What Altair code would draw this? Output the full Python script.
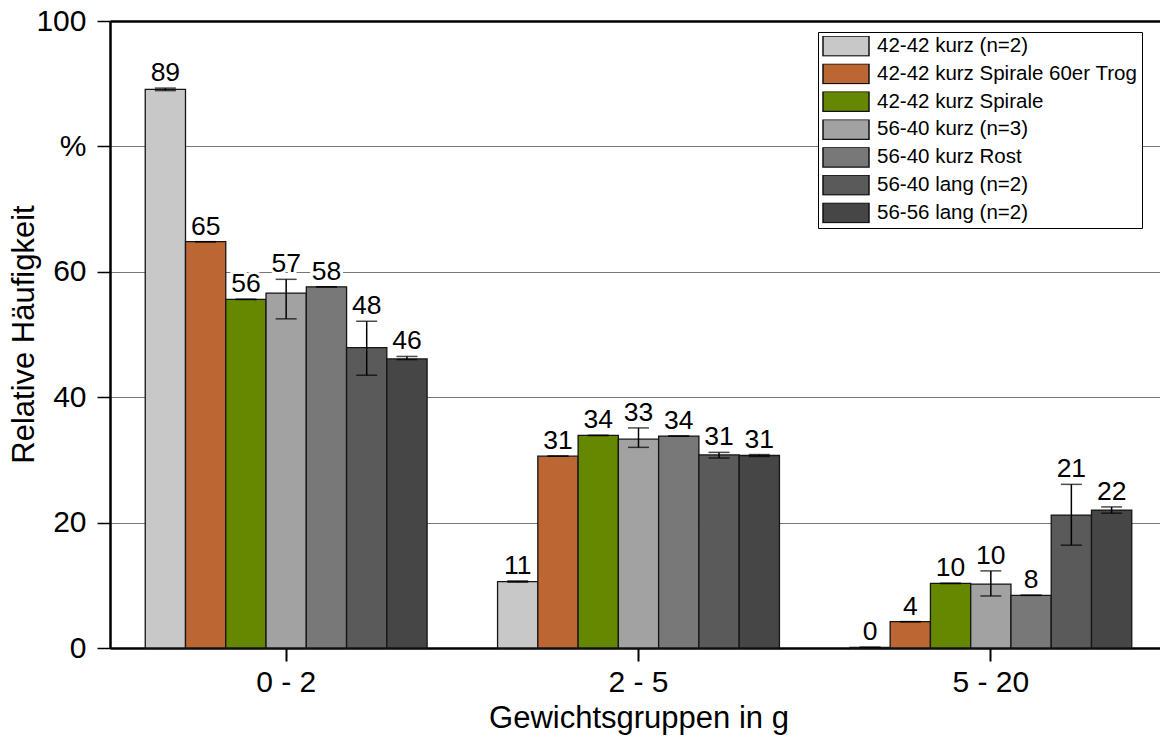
import altair as alt
import pandas as pd

categories = ["0 - 2", "2 - 5", "5 - 20"]
series = [
    "42-42 kurz (n=2)",
    "42-42 kurz Spirale 60er Trog",
    "42-42 kurz Spirale",
    "56-40 kurz (n=3)",
    "56-40 kurz Rost",
    "56-40 lang (n=2)",
    "56-56 lang (n=2)",
]
colors = ["#C8C8C8", "#BB6633", "#668800", "#A2A2A2", "#787878", "#5A5A5A", "#464646"]

# mean values per series (order of categories)
values = [
    [89.1, 10.6, 0.1],
    [64.8, 30.6, 4.2],
    [55.6, 33.9, 10.3],
    [56.6, 33.3, 10.2],
    [57.6, 33.8, 8.4],
    [47.9, 30.8, 21.2],
    [46.1, 30.7, 22.0],
]
# error bar lower / upper bounds
err_low = [
    [88.9, 10.5, 0.1],
    [64.8, 30.6, 4.2],
    [55.6, 33.9, 10.3],
    [52.5, 32.0, 8.3],
    [57.6, 33.8, 8.4],
    [43.5, 30.3, 16.4],
    [46.0, 30.55, 21.5],
]
err_high = [
    [89.3, 10.7, 0.1],
    [64.8, 30.6, 4.2],
    [55.6, 33.9, 10.3],
    [58.8, 35.1, 12.3],
    [57.6, 33.8, 8.4],
    [52.1, 31.2, 26.1],
    [46.5, 30.85, 22.5],
]

rows = []
for si, s in enumerate(series):
    for ci, c in enumerate(categories):
        v = values[si][ci]
        lo = err_low[si][ci]
        hi = err_high[si][ci]
        rows.append(dict(cat=c, series=s, value=v, lo=lo, hi=hi,
                         top=max(v, hi), label=f"{v:.0f}"))
df = pd.DataFrame(rows)

FONT = "Liberation Sans"

y_axis = alt.Axis(
    values=[0, 20, 40, 60, 80, 100],
    labelExpr="datum.value == 80 ? '%' : datum.label",
    labelFontSize=30, labelColor="black", labelPadding=11,
    title="Relative Häufigkeit", titleFontSize=31, titleFontWeight="normal",
    titleColor="black", titleX=-86, titleY=313, titleBaseline="middle",
    titleAlign="center",
    grid=True,
    gridColor={"condition": {"test": "datum.value >= 100", "value": "black"}, "value": "#777777"},
    gridWidth={"condition": {"test": "datum.value >= 100", "value": 2.5}, "value": 1.2},
    tickSize=13, tickColor="black", tickWidth=1.5,
    domainColor="black", domainWidth=2.5,
)
x_axis = alt.Axis(
    labelAngle=0, labelFontSize=30, labelColor="black", labelPadding=6,
    title="Gewichtsgruppen in g", titleFontSize=31, titleFontWeight="normal",
    titleColor="black", titlePadding=6,
    grid=False, tickSize=13, tickColor="black", tickWidth=2,
    domainColor="black", domainWidth=2.5,
)

x_enc = alt.X("cat:N", sort=categories,
              scale=alt.Scale(paddingInner=0.2, paddingOuter=0.1, range=[0, 1057]),
              axis=x_axis)
xo_enc = alt.XOffset("series:N", sort=series,
                     scale=alt.Scale(paddingInner=0, paddingOuter=0))
y_scale = alt.Scale(domain=[0, 100], nice=False)

legend = alt.Legend(
    orient="none", legendX=708, legendY=11, title=None,
    labelFontSize=20.5, labelFont=FONT, labelColor="black", labelLimit=400,
    labelOffset=7,
    symbolType="M-1,-0.435H1V0.435H-1Z", symbolSize=2116,
    symbolStrokeColor="#111111", symbolStrokeWidth=1.5, symbolOpacity=1,
    clipHeight=20, rowPadding=6.8, padding=4,
    strokeColor="black", fillColor="white",
)

bars = alt.Chart(df).mark_bar(stroke="#151515", strokeWidth=1.3, opacity=1).encode(
    x=x_enc, xOffset=xo_enc,
    y=alt.Y("value:Q", scale=y_scale, axis=y_axis),
    color=alt.Color("series:N", sort=series,
                    scale=alt.Scale(domain=series, range=colors), legend=legend),
)

rules = alt.Chart(df).mark_rule(color="black", strokeWidth=1.5).encode(
    x=x_enc, xOffset=xo_enc,
    y=alt.Y("lo:Q", scale=y_scale, axis=y_axis), y2="hi:Q",
)
caps_hi = alt.Chart(df).mark_tick(color="black", thickness=1.5, size=21).encode(
    x=x_enc, xOffset=xo_enc,
    y=alt.Y("hi:Q", scale=y_scale, axis=y_axis),
)
caps_lo = alt.Chart(df).mark_tick(color="black", thickness=1.5, size=21).encode(
    x=x_enc, xOffset=xo_enc,
    y=alt.Y("lo:Q", scale=y_scale, axis=y_axis),
)
halo = alt.Chart(df).mark_text(
    font=FONT, fontSize=26.5, baseline="alphabetic", dy=-7,
    color="white", stroke="white", strokeWidth=6,
).encode(
    x=x_enc, xOffset=xo_enc,
    y=alt.Y("top:Q", scale=y_scale, axis=y_axis), text="label:N",
)
labels = alt.Chart(df).mark_text(
    font=FONT, fontSize=26.5, baseline="alphabetic", dy=-7, color="black",
).encode(
    x=x_enc, xOffset=xo_enc,
    y=alt.Y("top:Q", scale=y_scale, axis=y_axis), text="label:N",
)

chart = alt.layer(bars, rules, caps_hi, caps_lo, halo, labels).properties(
    width=1050, height=627,
    padding={"left": 110, "top": 21, "right": 0, "bottom": 90},
    autosize=alt.AutoSizeParams(type="none"),
    background="white",
).configure(font=FONT).configure_view(stroke=None)

chart.save("out.html", embed_options={"renderer": "svg", "actions": False})
